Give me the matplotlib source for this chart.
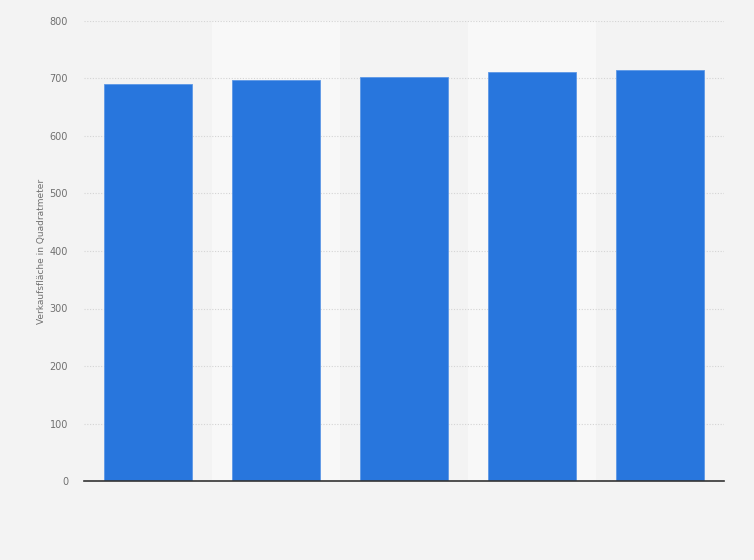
import matplotlib.pyplot as plt
import numpy as np

# values (no x labels are shown in it)
categories = ["", "", "", "", ""]
values = [690, 697, 703, 711, 715]
y_ticks = [0, 100, 200, 300, 400, 500, 600, 700, 800]
y_label = "Verkaufsfläche in Quadratmeter"

bg = "#f3f3f3"
band = "#f8f8f8"
bar_color = "#2876dd"

fig = plt.figure(figsize=(7.54, 5.6), dpi=100, facecolor=bg)
ax = fig.add_axes([84 / 754, 1 - 481 / 560, 640 / 754, 460 / 560])
ax.set_facecolor(bg)

x = np.arange(len(categories))

# alternating lighter column bands
for i in x:
    if i % 2 == 1:
        ax.axvspan(i - 0.5, i + 0.5, color=band, zorder=0, lw=0)

ax.bar(x, values, width=0.69, color=bar_color, edgecolor="#5d98e6",
       linewidth=0.6, zorder=3)

ax.set_xlim(-0.5, len(categories) - 0.5)
ax.set_ylim(0, 800)
ax.set_yticks(y_ticks)
ax.set_yticklabels([str(t) for t in y_ticks])
ax.set_xticks(x)
ax.set_xticklabels(categories)

ax.grid(axis="y", color="#d4d4d4", linestyle=(0, (1, 1.5)), linewidth=0.8, zorder=1)
ax.grid(axis="x", visible=False)

for side in ["top", "right", "left"]:
    ax.spines[side].set_visible(False)
ax.spines["bottom"].set_color("#333333")
ax.spines["bottom"].set_linewidth(1.2)
ax.spines["bottom"].set_zorder(4)

ax.tick_params(axis="y", length=0, labelsize=7, labelcolor="#707070", pad=11.5)
ax.tick_params(axis="x", length=0)

ax.set_ylabel(y_label, fontsize=6.5, color="#707070", labelpad=2.5)

fig.savefig("out.png", dpi=100, facecolor=bg)
